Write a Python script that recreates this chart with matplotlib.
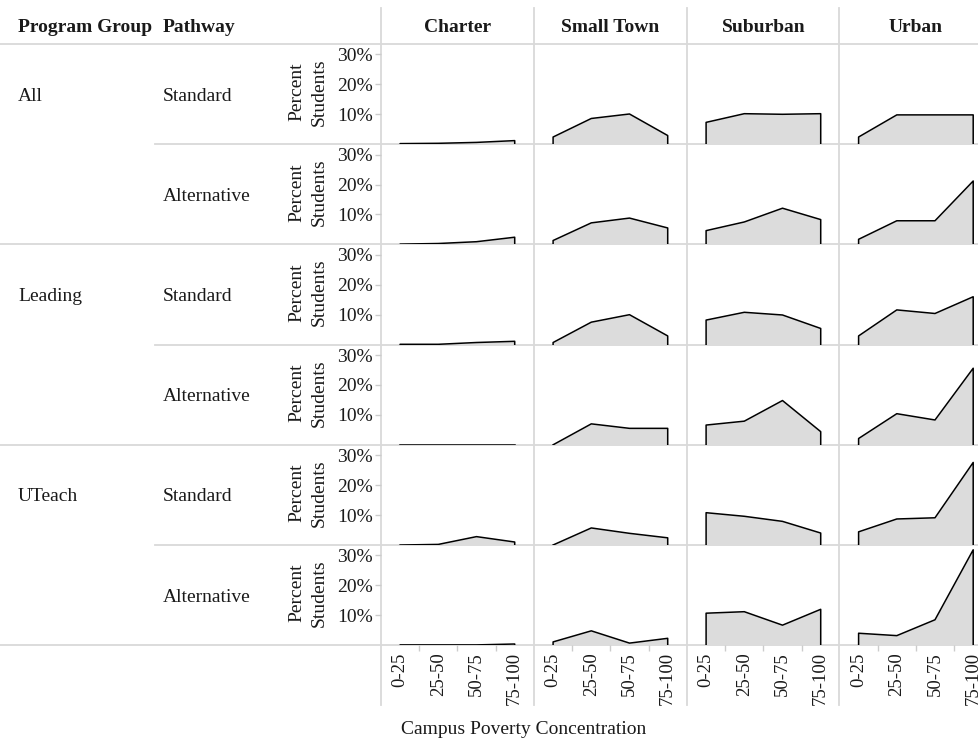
import numpy as np
import matplotlib
matplotlib.use("Agg")
import matplotlib.pyplot as plt
from matplotlib.lines import Line2D

plt.rcParams["font.family"] = ["Liberation Serif", "DejaVu Serif"]

# category labels
groups = ["All", "Leading", "UTeach"]
pathways = ["Standard", "Alternative"]
locales = ["Charter", "Small Town", "Suburban", "Urban"]
bins = ["0-25", "25-50", "50-75", "75-100"]

# percent of students, rows: All-Std, All-Alt, Leading-Std, Leading-Alt, UTeach-Std, UTeach-Alt
charter = [
    [0.2, 0.3, 0.6, 1.2],
    [0.1, 0.3, 0.9, 2.4],
    [0.1, 0.1, 0.7, 1.1],
    [0.1, 0.1, 0.1, 0.1],
    [0.0, 0.2, 2.8, 1.0],
    [0.1, 0.1, 0.1, 0.4],
]
small_town = [
    [2.4, 8.6, 10.1, 2.9],
    [1.3, 7.2, 8.8, 5.5],
    [0.7, 7.5, 10.0, 2.9],
    [0.0, 7.0, 5.5, 5.5],
    [0.0, 5.7, 3.9, 2.4],
    [1.1, 4.8, 0.7, 2.3],
]
suburban = [
    [7.3, 10.2, 10.0, 10.2],
    [4.6, 7.5, 12.1, 8.3],
    [8.2, 10.8, 9.9, 5.4],
    [6.6, 7.9, 14.8, 4.4],
    [10.8, 9.6, 7.9, 4.0],
    [10.7, 11.2, 6.7, 12.0],
]
urban = [
    [2.4, 9.8, 9.8, 9.8],
    [1.7, 7.9, 7.9, 21.2],
    [2.9, 11.6, 10.4, 16.0],
    [2.1, 10.4, 8.3, 25.6],
    [4.4, 8.7, 9.1, 27.6],
    [4.0, 3.2, 8.5, 31.9],
]
values = [charter, small_town, suburban, urban]

W, H = 979, 740
TEXT = "#1a1a1a"
GRID = "#d9d9d9"
FS = 14

fig = plt.figure(figsize=(W / 100, H / 100), dpi=100)


# figure helpers in pixel coords (y from top)
def fx(x):
    return x / W


def fy(y):
    return 1 - y / H


def hline(y, x0, x1):
    fig.add_artist(Line2D([fx(x0), fx(x1)], [fy(y), fy(y)], transform=fig.transFigure,
                          color=GRID, lw=1.3, zorder=0))


def vline(x, y0, y1):
    fig.add_artist(Line2D([fx(x), fx(x)], [fy(y0), fy(y1)], transform=fig.transFigure,
                          color=GRID, lw=1.3, zorder=0))


col_left = [381, 534, 687, 839.5]
col_w = 152.8
top0 = 44
row_h = 100.2
xs = np.arange(len(bins))

for r in range(6):
    top = top0 + r * row_h
    for c in range(4):
        ax = fig.add_axes([fx(col_left[c]), fy(top + row_h), col_w / W, row_h / H])
        ax.patch.set_alpha(0)
        vals = values[c][r]
        ax.fill_between(xs, vals, 0, color="#dcdcdc", lw=0)
        ax.plot([xs[0]] + list(xs) + [xs[-1]], [0] + vals + [0], color="black", lw=1.1)
        ax.set_xlim(-0.5, 3.5)
        ax.set_ylim(0, 33.5)
        for s in ax.spines.values():
            s.set_visible(False)
        if c == 0:
            ax.set_yticks([10, 20, 30])
            ax.set_yticklabels(["10%", "20%", "30%"], fontsize=FS, color=TEXT)
            ax.tick_params(axis="y", length=4, width=1, color="#cccccc", pad=2)
        else:
            ax.set_yticks([])
        if r == 5:
            ax.set_xticks(xs)
            ax.set_xticklabels(bins, rotation=90, fontsize=FS - 0.5, color=TEXT)
            ax.set_xticks([0.5, 1.5, 2.5], minor=True)
            ax.tick_params(axis="x", which="major", length=0, pad=5)
            ax.tick_params(axis="x", which="minor", length=4, width=1, color="#cccccc")
        else:
            ax.set_xticks([])

    # row labels
    yc = top + row_h / 2
    if r % 2 == 0:
        fig.text(fx(18), fy(yc + 2), groups[r // 2], fontsize=FS, color=TEXT,
                 ha="left", va="center")
    fig.text(fx(163), fy(yc + 2), pathways[r % 2], fontsize=FS, color=TEXT,
             ha="left", va="center")
    fig.text(fx(308), fy(yc - 2), "Percent\nStudents", fontsize=FS, color=TEXT,
             rotation=90, ha="center", va="center", linespacing=1.4)

# headers
fig.text(fx(18), fy(28), "Program Group", fontsize=FS, fontweight="bold", color=TEXT,
         ha="left", va="center")
fig.text(fx(163), fy(28), "Pathway", fontsize=FS, fontweight="bold", color=TEXT,
         ha="left", va="center")
for c, name in enumerate(locales):
    fig.text(fx(col_left[c] + col_w / 2), fy(28), name, fontsize=FS, fontweight="bold",
             color=TEXT, ha="center", va="center")

# separators
hline(top0, 0, W)
for r in range(1, 7):
    y = top0 + r * row_h
    if r % 2 == 1:
        hline(y, 155, W)
    else:
        hline(y, 0, W)
for x in col_left:
    vline(x, 8, 705)

fig.text(fx(524), fy(729), "Campus Poverty Concentration", fontsize=FS, color=TEXT,
         ha="center", va="center")

fig.savefig("out.png", dpi=100)
